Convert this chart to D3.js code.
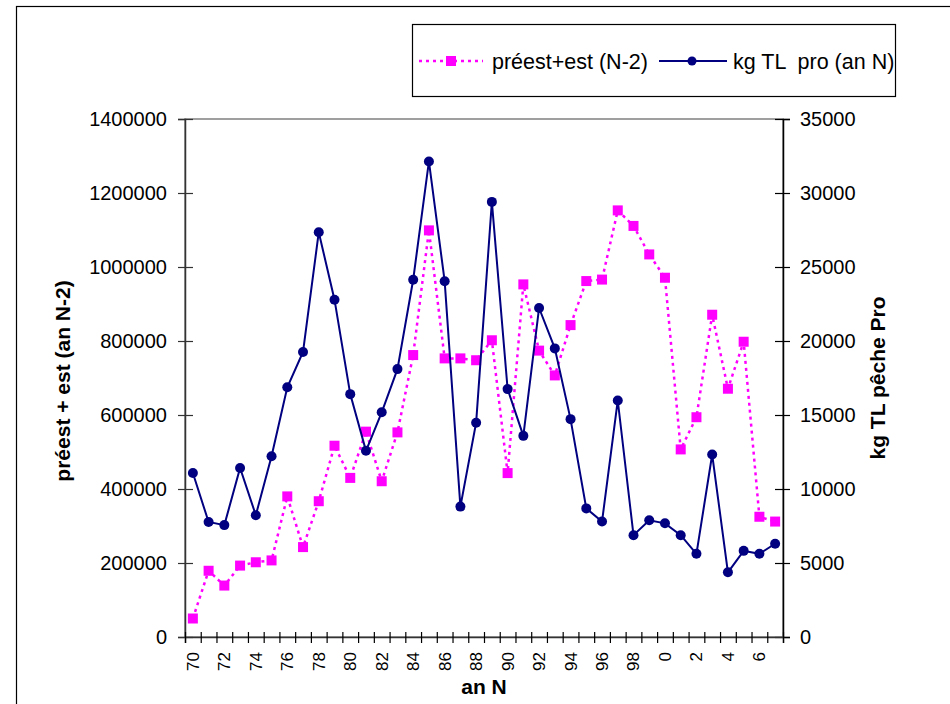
<!DOCTYPE html>
<html>
<head>
<meta charset="utf-8">
<script src="https://cdn.jsdelivr.net/npm/d3@7"></script>
<style>
  body { margin: 0; background: #fff; }
  svg { font-family: "Liberation Sans", Arial, sans-serif; }
</style>
</head>
<body>
<svg id="chart" width="950" height="704"></svg>
<script>
// years (an N), 1970 .. 2007
const years = ['70', '71', '72', '73', '74', '75', '76', '77', '78', '79',
  '80', '81', '82', '83', '84', '85', '86', '87', '88', '89',
  '90', '91', '92', '93', '94', '95', '96', '97', '98', '99',
  '0', '1', '2', '3', '4', '5', '6', '7'];

// préest + est (N-2), left axis
const preest = [50000, 179000, 139000, 193000, 202000, 207000, 380000, 243000, 367000, 517000,
  430000, 555000, 421000, 553000, 762000, 1099000, 753000, 753000, 748000, 802000,
  443000, 953000, 774000, 707000, 843000, 962000, 966000, 1153000, 1111000, 1034000,
  971000, 507000, 594000, 871000, 671000, 798000, 325000, 312000];

// kg TL pro (an N), right axis
const kgPro = [11080, 7770, 7560, 11420, 8230, 12210, 16870, 19260, 27350, 22790,
  16410, 12580, 15180, 18100, 24140, 32130, 24040, 8810, 14480, 29400,
  16750, 13590, 22230, 19500, 14720, 8690, 7800, 15980, 6880, 7890,
  7680, 6880, 5620, 12330, 4370, 5820, 5620, 6300];

const leftTicks = d3.range(0, 1400001, 200000);
const rightTicks = d3.range(0, 35001, 5000);
const xLabelYears = years.filter((d, i) => i % 2 === 0);

const svg = d3.select('#chart');
const plot = { left: 185, right: 783, top: 119, bottom: 637 };

const x = d3.scaleBand().domain(years).range([plot.left, plot.right]).padding(0);
const xEdge = d3.scaleLinear().domain([0, years.length]).range([plot.left, plot.right]);
const yL = d3.scaleLinear().domain([0, 1400000]).range([plot.bottom, plot.top]);
const yR = d3.scaleLinear().domain([0, 35000]).range([plot.bottom, plot.top]);
const cx = d => x(d) + x.bandwidth() / 2;

// outer frame (runs off the right and bottom edge)
svg.append('rect')
  .attr('x', 16.5).attr('y', 6.5)
  .attr('width', 960).attr('height', 720)
  .attr('fill', 'none').attr('stroke', '#000').attr('stroke-width', 1.2);

// plot area border
svg.append('rect')
  .attr('x', plot.left).attr('y', plot.top)
  .attr('width', plot.right - plot.left).attr('height', plot.bottom - plot.top)
  .attr('fill', 'none').attr('stroke', '#808080').attr('stroke-width', 1.5);

// left axis
const gL = svg.append('g')
  .attr('transform', `translate(${plot.left},0)`)
  .call(d3.axisLeft(yL).tickValues(leftTicks).tickFormat(d3.format('d')).tickSize(7).tickPadding(11));
gL.select('.domain').attr('stroke', '#333').attr('stroke-width', 1.5);
gL.selectAll('.tick line').attr('x1', 8).attr('stroke', '#333').attr('stroke-width', 1.2);
gL.selectAll('.tick text').style('font-size', '20px').attr('fill', '#000');

// right axis
const gR = svg.append('g')
  .attr('transform', `translate(${plot.right},0)`)
  .call(d3.axisRight(yR).tickValues(rightTicks).tickFormat(d3.format('d')).tickSize(7).tickPadding(10));
gR.select('.domain').attr('stroke', '#000').attr('stroke-width', 1.5);
gR.selectAll('.tick line').attr('x1', -8).attr('stroke', '#000').attr('stroke-width', 1.2);
gR.selectAll('.tick text').style('font-size', '20px').attr('fill', '#000');

// bottom axis: tick marks on category edges
const gX = svg.append('g')
  .attr('transform', `translate(0,${plot.bottom})`)
  .call(d3.axisBottom(xEdge).tickValues(d3.range(years.length + 1)).tickFormat('').tickSize(6));
gX.select('.domain').attr('stroke', '#333').attr('stroke-width', 1.5);
gX.selectAll('.tick line').attr('y1', -5).attr('stroke', '#000').attr('stroke-width', 1.2);

// bottom axis labels, rotated
svg.append('g')
  .selectAll('text')
  .data(xLabelYears)
  .join('text')
  .attr('transform', d => `translate(${cx(d)},${plot.bottom + 15}) rotate(-90)`)
  .attr('text-anchor', 'end')
  .attr('dy', '0.35em')
  .style('font-size', '17px')
  .text(d => d);

// axis titles
svg.append('text')
  .attr('transform', `translate(70,${(plot.top + plot.bottom) / 2 + 3}) rotate(-90)`)
  .attr('text-anchor', 'middle')
  .style('font-size', '21px').style('font-weight', 'bold')
  .text('préest + est (an N-2)');

svg.append('text')
  .attr('transform', `translate(885,${(plot.top + plot.bottom) / 2}) rotate(-90)`)
  .attr('text-anchor', 'middle')
  .style('font-size', '21px').style('font-weight', 'bold')
  .text('kg TL pêche Pro');

svg.append('text')
  .attr('x', 484).attr('y', 694)
  .attr('text-anchor', 'middle')
  .style('font-size', '21px').style('font-weight', 'bold')
  .text('an N');

// préest+est series
const pinkLine = d3.line().x((d, i) => cx(years[i])).y(d => yL(d));
svg.append('path')
  .datum(preest)
  .attr('d', pinkLine)
  .attr('fill', 'none').attr('stroke', '#ff00ff')
  .attr('stroke-width', 2.5).attr('stroke-dasharray', '3,4');

svg.append('g')
  .selectAll('rect')
  .data(preest)
  .join('rect')
  .attr('x', (d, i) => cx(years[i]) - 5)
  .attr('y', d => yL(d) - 5)
  .attr('width', 10).attr('height', 10)
  .attr('fill', '#ff00ff');

// kg TL pro series
const navyLine = d3.line().x((d, i) => cx(years[i])).y(d => yR(d));
svg.append('path')
  .datum(kgPro)
  .attr('d', navyLine)
  .attr('fill', 'none').attr('stroke', '#000080').attr('stroke-width', 2);

svg.append('g')
  .selectAll('circle')
  .data(kgPro)
  .join('circle')
  .attr('cx', (d, i) => cx(years[i]))
  .attr('cy', d => yR(d))
  .attr('r', 5)
  .attr('fill', '#000080');

// legend
const legend = svg.append('g');
legend.append('rect')
  .attr('x', 412.5).attr('y', 24.5).attr('width', 483).attr('height', 72)
  .attr('fill', '#fff').attr('stroke', '#000').attr('stroke-width', 1.2);

const ly = 61;
legend.append('line')
  .attr('x1', 419).attr('x2', 483).attr('y1', ly).attr('y2', ly)
  .attr('stroke', '#ff00ff').attr('stroke-width', 2.5).attr('stroke-dasharray', '3,4');
legend.append('rect')
  .attr('x', 446).attr('y', ly - 5).attr('width', 10).attr('height', 10)
  .attr('fill', '#ff00ff');
legend.append('text')
  .attr('x', 492).attr('y', ly).attr('dy', '0.35em')
  .style('font-size', '21.5px')
  .text('préest+est (N-2)');

legend.append('line')
  .attr('x1', 659).attr('x2', 727).attr('y1', ly).attr('y2', ly)
  .attr('stroke', '#000080').attr('stroke-width', 2);
legend.append('circle')
  .attr('cx', 692).attr('cy', ly).attr('r', 4.5)
  .attr('fill', '#000080');
legend.append('text')
  .attr('x', 733).attr('y', ly).attr('dy', '0.35em')
  .style('font-size', '21.5px')
  .style('white-space', 'pre')
  .text('kg TL  pro (an N)');
</script>
</body>
</html>
